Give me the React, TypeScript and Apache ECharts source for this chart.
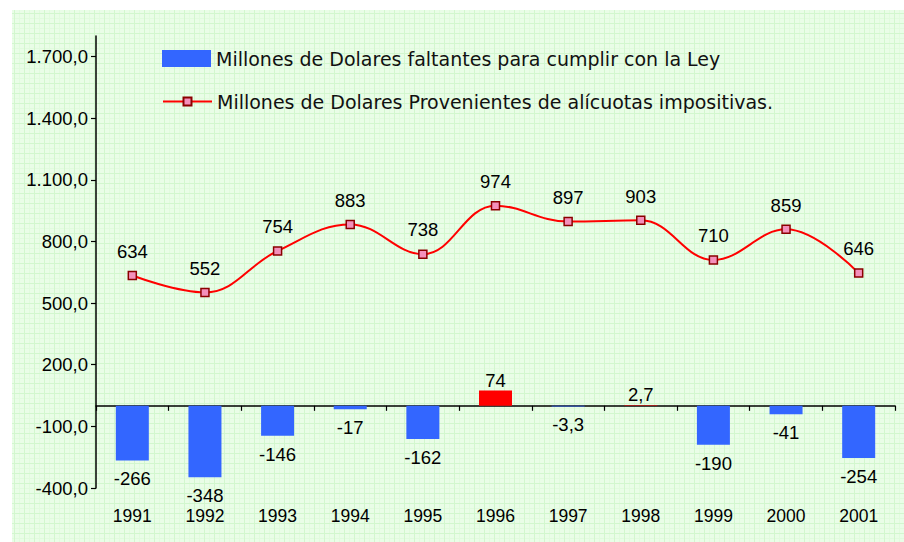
import React, { useEffect, useRef } from "react";
import * as echarts from "echarts";

const years = ["1991", "1992", "1993", "1994", "1995", "1996", "1997", "1998", "1999", "2000", "2001"];
const faltantes = [-266, -348, -146, -17, -162, 74, -3.3, 2.7, -190, -41, -254];
const provenientes = [634, 552, 754, 883, 738, 974, 897, 903, 710, 859, 646];
const yTicks = [-400, -100, 200, 500, 800, 1100, 1400, 1700];
const seriesNames = [
  "Millones de Dolares faltantes para cumplir con la Ley",
  "Millones de Dolares Provenientes de alícuotas impositivas.",
];

function fmtEs(v: number, decimals: number): string {
  const s = Math.abs(v).toFixed(decimals);
  const parts = s.split(".");
  const ip = parts[0].replace(/\B(?=(\d{3})+(?!\d))/g, ".");
  return (v < 0 ? "-" : "") + ip + (parts[1] ? "," + parts[1] : "");
}

function fmtLabel(v: number): string {
  return Number.isInteger(v) ? String(v) : fmtEs(v, 1);
}

const NUM_FONT = "'Liberation Sans', Arial, sans-serif";
const LEG_FONT = "'DejaVu Sans', Verdana, sans-serif";

export default function App() {
  const ref = useRef<HTMLDivElement>(null);

  useEffect(() => {
    document.body.style.margin = "0";
    if (!ref.current) return;
    const chart = echarts.init(ref.current, null, { renderer: "svg" });
    const option: any = {
      animation: false,
      backgroundColor: "transparent",
      grid: { left: 96, right: 9, top: 36, bottom: 54 },
      legend: [
        {
          data: [{ name: seriesNames[0], icon: "rect" }],
          left: 157,
          top: 44,
          itemWidth: 49,
          itemHeight: 17,
          textStyle: { fontFamily: LEG_FONT, fontSize: 19, color: "#111" },
        },
        {
          data: [seriesNames[1]],
          left: 157,
          top: 87,
          itemWidth: 49,
          itemHeight: 10,
          textStyle: { fontFamily: LEG_FONT, fontSize: 19, color: "#111" },
        },
      ],
      xAxis: [
        {
          type: "category",
          data: years,
          position: "bottom",
          boundaryGap: true,
          axisLine: { show: true, onZero: true, lineStyle: { color: "#000", width: 1.5 } },
          axisTick: { show: true, length: 5, lineStyle: { color: "#000", width: 1.2 } },
          axisLabel: { show: false },
          splitLine: { show: false },
        },
        {
          type: "category",
          data: years,
          position: "bottom",
          boundaryGap: true,
          axisLine: { show: false, onZero: false },
          axisTick: { show: false },
          axisLabel: { show: true, fontSize: 17.5, color: "#000", fontFamily: NUM_FONT, margin: 19 },
          splitLine: { show: false },
        },
      ],
      yAxis: {
        type: "value",
        min: -400,
        max: 1800,
        axisLine: { show: true, lineStyle: { color: "#000", width: 1.5 } },
        axisTick: { show: true, length: 5, customValues: yTicks, lineStyle: { color: "#000", width: 1.2 } },
        axisLabel: {
          show: true,
          customValues: yTicks,
          formatter: (v: number) => fmtEs(v, 1),
          fontSize: 18.5,
          color: "#000",
          fontFamily: NUM_FONT,
          margin: 8,
        },
        splitLine: { show: false },
      },
      series: [
        {
          name: seriesNames[0],
          type: "bar",
          xAxisIndex: 0,
          barWidth: 33,
          itemStyle: { color: "#3366ff" },
          label: {
            show: true,
            fontSize: 18.5,
            color: "#000",
            fontFamily: NUM_FONT,
            formatter: (p: any) => fmtLabel(p.value),
          },
          data: faltantes.map((v) => ({
            value: v,
            itemStyle: v > 0 ? { color: "#ff0000" } : undefined,
            label: v < 0 ? { position: "bottom", distance: 9 } : { position: "top", distance: 1 },
          })),
          z: 2,
        },
        {
          name: seriesNames[1],
          type: "line",
          xAxisIndex: 0,
          data: provenientes,
          smooth: 0.4,
          symbol: "rect",
          symbolSize: 8,
          lineStyle: { color: "#ff0000", width: 2 },
          itemStyle: { color: "#f490bb", borderColor: "#8b0000", borderWidth: 1.5 },
          label: {
            show: true,
            position: "top",
            distance: 10,
            fontSize: 18.5,
            color: "#000",
            fontFamily: NUM_FONT,
          },
          z: 3,
        },
      ],
    };
    chart.setOption(option);
    return () => chart.dispose();
  }, []);

  const bg: React.CSSProperties = {
    position: "absolute",
    left: 12,
    top: 10,
    right: 0,
    bottom: 0,
    backgroundColor: "#e9fde7",
    backgroundImage:
      "linear-gradient(to right, #d2f7ce 1px, transparent 1px)," +
      "linear-gradient(to bottom, #d2f7ce 1px, transparent 1px)," +
      "linear-gradient(to right, #e1fbde 1px, transparent 1px)," +
      "linear-gradient(to bottom, #e1fbde 1px, transparent 1px)",
    backgroundSize: "10px 10px, 10px 10px, 5px 5px, 5px 5px",
    backgroundPosition: "2px 3px, 2px 3px, 2px 3px, 2px 3px",
  };

  return (
    <div style={{ position: "relative", width: 904, height: 542, background: "#fff", overflow: "hidden" }}>
      <div style={bg} />
      <div ref={ref} style={{ position: "absolute", left: 0, top: 0, width: 904, height: 542 }} />
    </div>
  );
}
